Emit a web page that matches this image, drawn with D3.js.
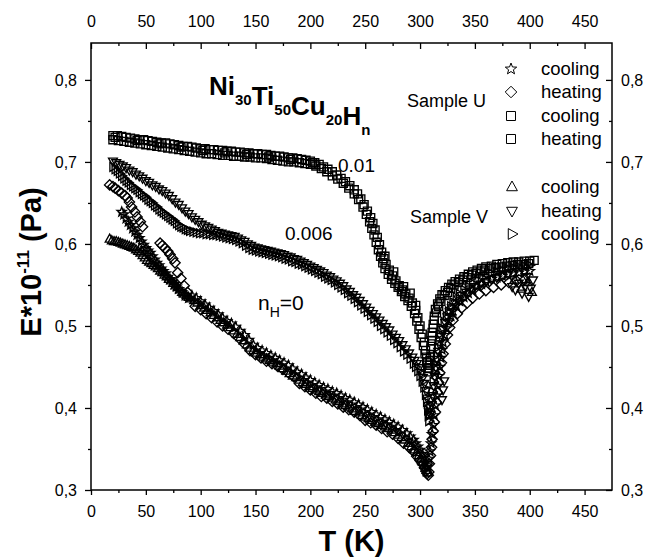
<!DOCTYPE html>
<html><head><meta charset="utf-8">
<script src="https://cdn.jsdelivr.net/npm/d3@7"></script>
<style>body{margin:0;background:#fff}svg{display:block}text{font-family:"Liberation Sans",Arial,Helvetica,sans-serif;fill:#000}</style>
</head><body><svg id="c" width="646" height="557"></svg>
<script>
// ---------- data (T in K, E*10^-11 Pa) ----------
const xTicks=[0,50,100,150,200,250,300,350,400,450];
const yTicks=[0.3,0.4,0.5,0.6,0.7,0.8];
const legendU=[["star","cooling"],["diamond","heating"],["square","cooling"],["square","heating"]];
const legendV=[["triUp","cooling"],["triDown","heating"],["triRight","cooling"]];

// Sample U, n_H = 0.01, cooling (squares)
const uSqCool=[[20,.732],[24,.732],[28,.731],[32,.730],[36,.729],[40,.728],[44,.727],[48,.727],[52,.726],[56,.725],[60,.724],[64,.723],[68,.723],[72,.722],[76,.721],[80,.720],[84,.719],[88,.719],[92,.718],[96,.717],[100,.716],[104,.716],[108,.715],[112,.715],[116,.714],[120,.714],[124,.713],[128,.713],[132,.712],[136,.712],[140,.711],[144,.711],[148,.710],[152,.710],[156,.709],[160,.709],[164,.708],[168,.707],[172,.707],[176,.706],[180,.705],[184,.705],[188,.704],[192,.703],[196,.702],[200,.701],[204,.699],[208,.697],[212,.694],[216,.691],[220,.688],[224,.684],[228,.680],[232,.676],[236,.671],[240,.666],[243,.661],[246,.655],[249,.648],[252,.640],[255,.632],[257,.625],[259,.617],[261,.608],[263,.599],[265,.590],[267,.582],[269,.575],[272,.568],[275,.561],[278,.555],[281,.549],[284,.544],[287,.539],[290,.534],[293,.528],[296,.519],[298,.510],[300,.500],[302,.490],[304,.480],[305,.470],[306,.462],[307,.455],[308,.449],
[309,.452],[309.5,.462],[310,.472],[310.5,.482],[311,.492],[312,.502],[313,.512],[314,.520],[316,.527],[318,.533],[320,.538],[323,.543],[326,.547],[329,.551],[332,.554],[336,.557],[340,.560],[344,.563],[348,.566],[352,.568],[356,.570],[360,.572],[365,.573],[370,.575],[375,.576],[380,.577],[385,.578],[390,.578],[395,.579],[400,.579],[404,.580]];
// Sample U, n_H = 0.01, heating (squares)
const uSqHeat=[[20,.727],[25,.726],[30,.725],[35,.724],[40,.723],[45,.722],[50,.721],[55,.720],[60,.719],[65,.718],[70,.717],[75,.716],[80,.715],[85,.714],[90,.713],[95,.712],[100,.711],[105,.710],[110,.710],[115,.709],[120,.708],[125,.708],[130,.707],[135,.707],[140,.706],[145,.706],[150,.705],[155,.705],[160,.704],[165,.703],[170,.702],[175,.701],[180,.700],[185,.700],[190,.699],[195,.698],[200,.697],[205,.695],[210,.692],[215,.688],[220,.683],[225,.679],[230,.674],[235,.668],[240,.661],[244,.654],[248,.645],[251,.636],[254,.627],[256,.619],[258,.611],[260,.602],[262,.593],[264,.585],[266,.577],[268,.570],[271,.563],[274,.557],[277,.552],[280,.547],[283,.542],[286,.536],[289,.531],[292,.524],[295,.515],[297,.506],[299,.496],[301,.486],[303,.476],[304.5,.466],[306,.456],[307,.448],[308,.444],
[309,.458],[310,.475],[311,.488],[312,.497],[313,.507],[315,.516],[317,.524],[319,.530],[322,.537],[325,.541],[328,.546],[331,.550],[335,.553],[339,.556],[343,.559],[347,.562],[351,.564],[355,.566],[359,.568],[364,.570],[369,.571],[374,.572],[379,.573],[384,.574],[389,.575],[394,.575],[399,.576],
[22,.730],[42,.726],[62,.722],[82,.718],[102,.714],[122,.711],[142,.709],[162,.706],[182,.703],[202,.699],[268,.585],[276,.566],[285,.548],[291,.540],[296,.525]];
// Sample U, n_H = 0, cooling (stars)
const uStarCool=[[28,.639],[30,.636],[32,.631],[34,.627],[36,.623],[38,.619],[40,.615],[42,.611],[44,.607],[46,.603],[48,.599],[50,.595],[52,.592],[54,.589],[56,.585],[58,.581],[60,.577],[62,.574],[64,.570],[66,.567],[68,.564],[70,.560],[72,.557],[74,.554],[76,.551],[78,.548],[80,.545],[83,.541],[86,.537],[89,.534],
[92,.537],[96,.534],[100,.530],[104,.526],[108,.522],[112,.518],[116,.514],[120,.510],[124,.506],[128,.503],[132,.499],[136,.494],[140,.489],[144,.483],[148,.477],[152,.473],[156,.470],[160,.467],[164,.464],[168,.461],[172,.458],[176,.455],[180,.452],[184,.448],[188,.444],[192,.441],[196,.437],[200,.434],[204,.431],[208,.428],[212,.425],[216,.423],[220,.420],[224,.418],[228,.415],[232,.412],[236,.410],[240,.407],[244,.404],[248,.401],[252,.398],[256,.395],[260,.392],[264,.389],[268,.386],[272,.383],[276,.380],[280,.377],[284,.373],[288,.369],[291,.365],[294,.361],[296,.357],[298,.353],[300,.349],[302,.344],[303.5,.339],[305,.333],[306,.328],
[307,.330],[308,.338],[309,.347],[310,.357],[311,.368],[312,.379],[313,.391],[314,.403],[315,.415],[316,.427],[317,.439],[318,.450],[319,.461],[320,.471],[321,.480],[322.5,.489],[324,.497],[326,.505],[328,.512],[330,.518],[333,.525],[336,.530],[340,.535],[344,.540],[348,.544],[352,.548],[356,.551],[360,.554],[365,.557],[370,.559],[375,.561],[380,.563],[385,.564],[390,.565],[395,.566],[400,.567]];
// Sample U, n_H = 0, heating (diamonds)
const uDiaHeat=[[17,.672],[20,.670],[22,.668],[25,.665],[28,.662],[31,.659],[33,.656],[35,.651],[37,.645],[40,.639],[42,.633],[45,.627],[47,.621],[63,.601],[65,.598],[67.5,.595],[70,.591],[72,.587],[74.5,.582],[76.6,.577],[79,.565],[82,.558],[85,.549],[88,.541],
[95,.524],[100,.520],[105,.515],[110,.510],[115,.505],[120,.500],[125,.496],[130,.491],[135,.485],[140,.478],[145,.470],[150,.465],[155,.461],[160,.457],[165,.454],[170,.451],[175,.447],[180,.443],[185,.438],[190,.430],[195,.426],[200,.422],[205,.418],[210,.414],[215,.412],[220,.408],[225,.405],[230,.401],[235,.398],[240,.395],[245,.391],[250,.385],[255,.382],[260,.379],[265,.375],[270,.371],[275,.368],[280,.363],[285,.357],[290,.352],[294,.347],[297,.341],[300,.336],[302,.332],[304,.327],[305.5,.323],[306.5,.320],[307.5,.318],[308,.322],
[308.5,.332],[309.5,.342],[310.5,.352],[311,.362],[312,.372],[313,.383],[314,.395],[315,.407],[316,.419],[317,.431],[318,.443],[319.5,.455],[321,.466],[323,.478],[325,.489],[327,.498],[330,.507],[334,.515],[338,.522],[343,.528],[348,.534],[354,.539],[360,.543],[367,.547],[374,.550],[381,.553],[388,.555],[395,.556]];
// Sample V, n_H = 0, cooling (triangles up)
const vUpCool=[[17,.606],[19,.604],[21,.603],[23,.603],[25,.602],[27,.601],[29,.600],[31,.599],[33,.598],[35,.597],[37,.596],[39,.595],[41,.593],[43,.591],[45,.589],[47,.586],[49,.583],[51,.580],[53,.578],[55,.576],[57,.574],[59,.572],[61,.570],[63,.567],[65,.565],[67,.562],[69,.560],[71,.557],[73,.555],[75,.552],[77,.549],[79,.547],[81,.544],[83,.541],[85,.539],[87,.537],[89,.535],[91,.533],[94,.531],[97,.528],[100,.525],[103,.522],[106,.519],[109,.516],[112,.513],[115,.510],[118,.507],[121,.504],[124,.501],[127,.498],[130,.494],[133,.490],[136,.486],[139,.482],[142,.477],[145,.473],[148,.470],[151,.467],[154,.465],[157,.462],[160,.460],[163,.458],[166,.456],[169,.454],[172,.451],[175,.448],[178,.445],[181,.442],[184,.439],[187,.437],[190,.434],[193,.431],[196,.429],[199,.426],[202,.424],[205,.422],[208,.420],[211,.418],[214,.416],[217,.414],[220,.412],[223,.410],[226,.408],[229,.405],[232,.403],[235,.401],[238,.399],[241,.396],[244,.394],[247,.391],[250,.389],[253,.387],[256,.385],[259,.383],[262,.381],[265,.379],[268,.377],[271,.375],[274,.373],[277,.370],[280,.367],[283,.364],[286,.361],[289,.357],[292,.353],[295,.349],[297,.346],[299,.342],[301,.338],[302.5,.334],[304,.330],[305,.327],[306,.324],[307,.321],
[386,.556],[392,.545],[398,.553],[402,.541]];
// Sample V, n_H = 0.006, heating (triangles down)
const vDownHeat=[[20,.701],[23,.699],[26,.697],[29,.695],[32,.693],[35,.690],[38,.688],[41,.685],[44,.683],[47,.680],[50,.677],[53,.675],[56,.672],[59,.670],[62,.667],[65,.665],[68,.662],[71,.659],[74,.655],[77,.651],[80,.648],[83,.644],[86,.640],[89,.637],[92,.633],[95,.630],[98,.627],[101,.624],[104,.622],[107,.620],[110,.618],[113,.616],[116,.614],[119,.613],[122,.612],[125,.611],[128,.610],[131,.609],[134,.607],[137,.605],[140,.603],[143,.600],[146,.598],[149,.596],[152,.595],[155,.594],[158,.593],[161,.592],[164,.591],[167,.590],[170,.589],[173,.588],[176,.587],[179,.585],[182,.584],[185,.582],[188,.581],[191,.579],[194,.577],[197,.575],[200,.573],[203,.571],[206,.569],[209,.567],[212,.565],[215,.562],[218,.560],[221,.557],[224,.555],[227,.552],[230,.549],[233,.545],[236,.542],[239,.538],[242,.535],[245,.531],[248,.527],[251,.523],[254,.519],[257,.515],[260,.511],[263,.507],[266,.503],[269,.499],[272,.495],[275,.490],[278,.486],[281,.482],[284,.477],[287,.472],[290,.467],[293,.462],[295,.458],[297,.454],[299,.449],[301,.443],[302.5,.437],[304,.430],[305.5,.421],[306.5,.412],[307.5,.403],[308,.395],
[309.5,.392],[310.5,.404],[311.5,.415],[312.5,.427],[313.5,.438],[314.5,.449],[315.5,.459],[316.5,.469],[317.5,.478],[319,.487],[321,.496],[323,.504],[325,.511],[327,.517],[329,.522],[332,.528],[335,.533],[338,.537],[342,.541],[346,.545],[350,.548],[355,.551],[360,.554],[365,.557],[370,.559],[375,.561],[380,.563],
[384,.548],[387,.544],[390,.552],[393,.540],[396,.549],[399,.536],[401,.546],[403,.556],[397,.560],[320,.410],[321,.422],[322,.433]];
// Sample V, n_H = 0.006, cooling (triangles right)
const vRightCool=[[20,.694],[22,.691],[24,.689],[26,.686],[28,.683],[30,.680],[32,.677],[34,.675],[36,.672],[38,.670],[40,.668],[42,.666],[44,.663],[46,.661],[48,.659],[50,.657],[52,.654],[54,.652],[56,.650],[58,.647],[60,.645],[62,.642],[64,.640],[66,.638],[68,.636],[70,.634],[72,.632],[74,.630],[76,.628],[78,.625],[80,.623],[82,.621],[84,.620],[86,.618],[88,.617],[90,.616],[93,.615],[96,.614],[99,.613],[102,.613],[105,.612],[108,.612],[111,.611],[114,.611],[117,.610],[120,.609],[123,.608],[126,.607],[129,.606],[132,.605],[135,.603],[138,.601],[141,.598],[144,.595],[147,.593],[150,.592],[153,.591],[156,.590],[159,.589],[162,.588],[165,.587],[168,.586],[171,.585],[174,.584],[177,.582],[180,.581],[183,.579],[186,.578],[189,.576],[192,.575],[195,.573],[198,.571],[201,.569],[204,.567],[207,.565],[210,.563],[213,.560],[216,.558],[219,.556],[222,.553],[225,.550],[228,.547],[231,.544],[234,.540],[237,.537],[240,.533],[243,.529],[246,.525],[249,.521],[252,.517],[255,.513],[258,.509],[261,.505],[264,.500],[267,.496],[270,.492],[273,.488],[276,.483],[279,.479],[282,.474],[285,.469],[288,.465],[291,.460],[294,.454],[296,.450],[298,.445],[300,.439],[302,.432],[303.5,.425],[305,.416],[306,.407],[307,.397],[307.5,.390],[308,.384],
[308.5,.392],[309,.400],[310,.410],[311,.420],[312,.432],[313,.443],[314,.454],[315,.464],[316,.474],[317,.483],[318,.490],[320,.497],[322,.505],[324,.512],[326,.518],[328,.524],[330,.529],[333,.535],[336,.539],[340,.544],[344,.548],[348,.552],[352,.556],[356,.559],[360,.561],[365,.564],[370,.566],[375,.568],[380,.570],[385,.571],[390,.572],[395,.573],[400,.574]];

const seriesList=[
  {data:vUpCool,shape:"triUp"},
  {data:uDiaHeat,shape:"diamond"},
  {data:uStarCool,shape:"star"},
  {data:vRightCool,shape:"triRight"},
  {data:vDownHeat,shape:"triDown"},
  {data:uSqHeat,shape:"square"},
  {data:uSqCool,shape:"square"}
];

// ---------- drawing ----------
const svg=d3.select("#c");
const L=91,R=612,T=43,B=490;
const x=d3.scaleLinear().domain([0,475]).range([L,R]);
const y=d3.scaleLinear().domain([0.3,0.845]).range([B,T]);
const FONT='"Liberation Sans",Arial,Helvetica,sans-serif';

function shape(type,r){
  const h=r*0.82;
  switch(type){
    case "square": return `M${-h},${-h}H${h}V${h}H${-h}Z`;
    case "diamond": return `M0,${-r*1.05}L${r*1.05},0L0,${r*1.05}L${-r*1.05},0Z`;
    case "triUp": return `M0,${-r}L${r*0.9},${r*0.62}L${-r*0.9},${r*0.62}Z`;
    case "triDown": return `M0,${r}L${r*0.9},${-r*0.62}L${-r*0.9},${-r*0.62}Z`;
    case "triRight": return `M${r},0L${-r*0.62},${r*0.9}L${-r*0.62},${-r*0.9}Z`;
    case "star": {
      let p="";
      for(let i=0;i<10;i++){const rr=i%2?r*0.42:r;const a=-Math.PI/2+i*Math.PI/5;p+=(i?"L":"M")+(rr*Math.cos(a)).toFixed(2)+","+(rr*Math.sin(a)).toFixed(2);}
      return p+"Z";
    }
  }
}

// markers
const gData=svg.append("g");
seriesList.forEach(s=>{
  gData.append("g").selectAll("path").data(s.data).join("path")
    .attr("d",shape(s.shape,4.9))
    .attr("transform",d=>`translate(${x(d[0])},${y(d[1])})`)
    .attr("fill","none").attr("stroke","#000").attr("stroke-width",1.35);
});

// axes
const fmtY=d=>d3.format(".1f")(d).replace(".",",");
const minorX=d3.range(25,475,50);
const minorY=d3.range(0.35,0.845,0.1);
function styleAxis(g){g.select(".domain").remove();g.selectAll("text").attr("font-size",16).attr("font-family",FONT);g.selectAll("line").attr("stroke","#000").attr("stroke-width",1.3);}
svg.append("g").attr("transform",`translate(0,${B})`).call(d3.axisBottom(x).tickValues(xTicks).tickSize(5).tickPadding(10.6)).call(styleAxis);
svg.append("g").attr("transform",`translate(0,${B})`).call(d3.axisBottom(x).tickValues(minorX).tickSize(3).tickFormat("")).call(styleAxis);
svg.append("g").attr("transform",`translate(0,${T})`).call(d3.axisTop(x).tickValues(xTicks).tickSize(-6).tickPadding(16)).call(styleAxis);
svg.append("g").attr("transform",`translate(0,${T})`).call(d3.axisTop(x).tickValues(minorX).tickSize(-3).tickFormat("")).call(styleAxis);
svg.append("g").attr("transform",`translate(${L},0)`).call(d3.axisLeft(y).tickValues(yTicks).tickSize(6).tickPadding(8).tickFormat(fmtY)).call(styleAxis);
svg.append("g").attr("transform",`translate(${L},0)`).call(d3.axisLeft(y).tickValues(minorY).tickSize(3).tickFormat("")).call(styleAxis);
svg.append("g").attr("transform",`translate(${R},0)`).call(d3.axisRight(y).tickValues(yTicks).tickSize(-6).tickPadding(9).tickFormat(fmtY)).call(styleAxis);
svg.append("g").attr("transform",`translate(${R},0)`).call(d3.axisRight(y).tickValues(minorY).tickSize(-3).tickFormat("")).call(styleAxis);
svg.append("rect").attr("x",L).attr("y",T).attr("width",R-L).attr("height",B-T).attr("fill","none").attr("stroke","#000").attr("stroke-width",1.5);

// axis titles
svg.append("text").attr("x",(L+R)/2).attr("y",551).attr("text-anchor","middle").attr("font-size",29).attr("font-weight","bold").text("T (K)");
const yt=svg.append("text").attr("transform","translate(41,262) rotate(-90)").attr("text-anchor","middle").attr("font-size",29).attr("font-weight","bold");
yt.append("tspan").text("E*10");
yt.append("tspan").attr("font-size",17).attr("dy",-12).text("-11");
yt.append("tspan").attr("dy",12).text(" (Pa)");

// compound title
const tt=svg.append("text").attr("x",209).attr("y",95).attr("font-weight","bold").attr("font-size",26);
[["Ni","30"],["Ti","50"],["Cu","20"],["H","n"]].forEach(([a,b])=>{
  tt.append("tspan").attr("font-size",26).attr("dy",0).text(a);
  tt.append("tspan").attr("font-size",15).attr("dy",10).text(b);
  tt.append("tspan").attr("font-size",26).attr("dy",-10).text("");
});

// curve labels
svg.append("text").attr("x",338).attr("y",172).attr("font-size",19).text("0.01");
svg.append("text").attr("x",285).attr("y",240).attr("font-size",19).text("0.006");
const nl=svg.append("text").attr("x",258).attr("y",310).attr("font-size",21);
nl.append("tspan").text("n");
nl.append("tspan").attr("font-size",14).attr("dy",7).text("H");
nl.append("tspan").attr("dy",-7).text("=0");

// legends
const legU=[69,92,116,139], legV=[187,211,234];
legendU.forEach((d,i)=>{
  svg.append("path").attr("d",shape(d[0],d[0]==="star"?6:5.5)).attr("transform",`translate(511,${legU[i]})`).attr("fill","none").attr("stroke","#000").attr("stroke-width",1);
  svg.append("text").attr("x",541).attr("y",legU[i]+6).attr("font-size",18.5).text(d[1]);
});
legendV.forEach((d,i)=>{
  svg.append("path").attr("d",shape(d[0],6)).attr("transform",`translate(512,${legV[i]})`).attr("fill","none").attr("stroke","#000").attr("stroke-width",1);
  svg.append("text").attr("x",541).attr("y",legV[i]+6).attr("font-size",18.5).text(d[1]);
});
svg.append("text").attr("x",407).attr("y",107).attr("font-size",18).text("Sample U");
svg.append("text").attr("x",410).attr("y",223).attr("font-size",18).text("Sample V");
</script></body></html>
